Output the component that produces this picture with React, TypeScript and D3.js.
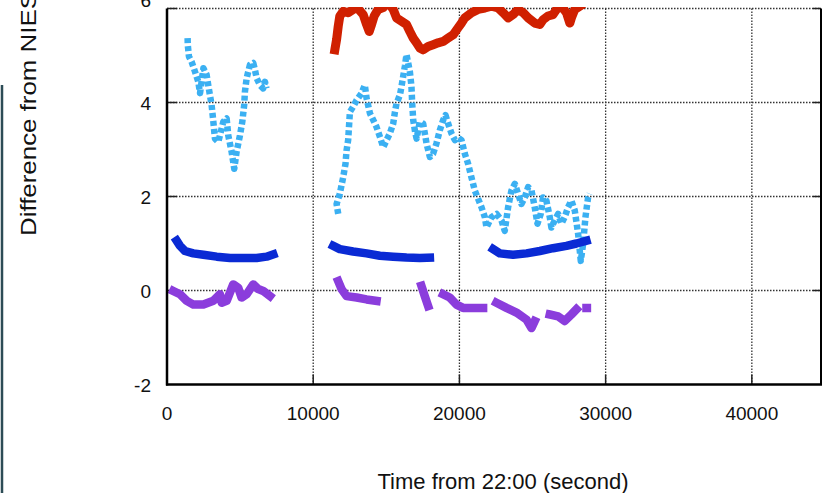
import React from "react";
import * as d3 from "d3";

// Time axis (seconds since 22:00) and difference axis
const xTicks = [0, 10000, 20000, 30000, 40000];
const yTicks = [-2, 0, 2, 4, 6];

type Pt = [number, number];

// Red series
const redSeg1: Pt[] = [
  [11480, 5.12], [11600, 5.34], [11710, 5.62], [11820, 5.84], [12050, 5.94],
  [12390, 5.91], [12730, 5.98], [13000, 6.02], [13420, 5.87], [13650, 5.66],
  [13830, 5.51], [13990, 5.66], [14170, 5.84], [14440, 5.98], [14790, 6.02],
  [15100, 6.15], [15470, 5.98], [15700, 5.8], [16040, 5.73], [16380, 5.66],
  [16610, 5.51], [16840, 5.37], [17070, 5.27], [17290, 5.16], [17520, 5.12],
  [17860, 5.19], [18200, 5.23], [18540, 5.27], [18890, 5.3], [19230, 5.37],
  [19570, 5.44], [19910, 5.59], [20140, 5.69], [20370, 5.8], [20830, 5.91],
  [21280, 5.98], [21740, 6.01], [22190, 6.05], [22650, 6.01], [22990, 5.91],
  [23330, 5.8], [23670, 5.87], [24010, 5.98], [24360, 5.91], [24700, 5.8],
  [25150, 5.69], [25500, 5.66], [25720, 5.76], [26060, 5.84], [26400, 5.87],
  [26630, 5.98], [26980, 6.05], [27320, 5.91], [27550, 5.69], [27660, 5.8],
  [27890, 5.98], [28230, 6.05],
];

// Light blue series
const skySeg1: Pt[] = [
  [1410, 5.37], [1420, 5.23], [1500, 4.98], [1680, 4.87], [1910, 4.66],
  [2140, 4.44], [2260, 4.2], [2490, 4.73], [2710, 4.59], [2820, 4.37],
  [3050, 3.95], [3170, 3.59], [3280, 3.23], [3510, 3.16], [3850, 3.59],
  [4080, 3.66], [4190, 3.3], [4420, 2.95], [4600, 2.59], [4760, 2.95],
  [4990, 3.3], [5150, 3.59], [5280, 3.95], [5330, 4.23], [5450, 4.52],
  [5670, 4.8], [5900, 4.84], [6010, 4.7], [6130, 4.52], [6360, 4.37],
  [6580, 4.3], [6700, 4.44], [6800, 4.3],
];
const skySeg2: Pt[] = [
  [11710, 1.63], [11600, 1.84], [11820, 2.06], [12050, 2.41], [12210, 2.7],
  [12280, 2.98], [12390, 3.2], [12440, 3.45], [12510, 3.8], [12730, 3.91],
  [12970, 4.05], [13310, 4.2], [13530, 4.37], [13650, 4.09], [13880, 3.77],
  [14100, 3.63], [14330, 3.48], [14560, 3.27], [14790, 3.05], [15020, 3.2],
  [15240, 3.34], [15470, 3.55], [15590, 3.8], [15700, 3.98], [15930, 4.16],
  [16040, 4.34], [16150, 4.55], [16270, 4.77], [16380, 5.02], [16610, 4.66],
  [16720, 4.34], [16770, 3.98], [16840, 3.63], [16950, 3.41], [17070, 3.23],
  [17290, 3.59], [17520, 3.55], [17750, 3.13], [17980, 2.84], [18200, 2.91],
  [18430, 3.13], [18660, 3.41], [18890, 3.63], [19050, 3.73], [19230, 3.55],
  [19460, 3.34], [19690, 3.2], [19910, 3.25], [20140, 3.2], [20370, 2.91],
  [20590, 2.7], [20820, 2.41], [21050, 2.13], [21280, 1.95], [21510, 1.77],
  [21740, 1.56], [21850, 1.34], [22190, 1.56], [22540, 1.63], [22880, 1.49],
  [23100, 1.27], [23330, 1.77], [23560, 2.13], [23790, 2.27], [24010, 2.06],
  [24240, 1.84], [24470, 1.98], [24700, 2.2], [24930, 2.13], [25150, 1.77],
  [25340, 1.42], [25560, 1.63], [25720, 1.98], [25950, 1.91], [26180, 1.56],
  [26290, 1.34], [26520, 1.49], [26750, 1.63], [26980, 1.42], [27200, 1.56],
  [27430, 1.77], [27660, 1.91], [27890, 1.7], [28120, 1.2], [28300, 0.63],
  [28460, 0.99], [28620, 1.56], [28800, 1.98], [28910, 2.06],
];

// Dark blue series
const navySeg1: Pt[] = [
  [660, 1.06], [890, 0.95], [1230, 0.84], [1800, 0.79], [2490, 0.76],
  [3400, 0.72], [4310, 0.69], [5220, 0.69], [6130, 0.69], [6810, 0.72],
  [7270, 0.77],
];
const navySeg2: Pt[] = [
  [11370, 0.95], [11820, 0.88], [12730, 0.83], [13650, 0.79], [14560, 0.74],
  [15470, 0.72], [16380, 0.7], [17290, 0.69], [17980, 0.7],
];
const navySeg3: Pt[] = [
  [22310, 0.88], [22760, 0.79], [23670, 0.76], [24590, 0.79], [25500, 0.84],
  [26400, 0.9], [27320, 0.95], [28000, 1.0], [28690, 1.06],
];

// Purple series
const violetSeg1: Pt[] = [
  [430, -0.01], [890, -0.08], [1350, -0.22], [1800, -0.3], [2490, -0.3],
  [3170, -0.22], [3620, -0.08], [3740, -0.26], [4080, -0.22], [4530, 0.13],
  [4870, 0.06], [5100, -0.15], [5450, -0.08], [5900, 0.13], [6240, 0.03],
  [6580, -0.01], [7040, -0.12],
];
const violetSeg2: Pt[] = [
  [11710, 0.2], [11940, 0.03], [12280, -0.12], [12970, -0.15], [13650, -0.19],
  [14330, -0.22],
];
const violetSeg3: Pt[] = [
  [17400, 0.1], [17630, -0.12], [17860, -0.33],
];
const violetSeg4: Pt[] = [
  [18890, -0.08], [19340, -0.15], [19800, -0.3], [20250, -0.37], [20940, -0.37],
  [21620, -0.37],
];
const violetSeg5: Pt[] = [
  [22530, -0.26], [23220, -0.37], [23900, -0.47], [24590, -0.62], [24930, -0.8],
  [25150, -0.65],
];
const violetSeg6: Pt[] = [
  [26180, -0.51], [26750, -0.55], [27200, -0.65], [27660, -0.51], [28000, -0.4],
];
const violetSeg7: Pt[] = [[28690, -0.37], [28720, -0.37]];

const W = 825;
const H = 493;
const left = 167;
const right = 821;
const top = 8.5;
const bottom = 384.5;

const x = d3.scaleLinear().domain([0, 44730]).range([left, right]);
const y = d3.scaleLinear().domain([-2, 6]).range([bottom, top]);

const line = d3
  .line<Pt>()
  .x((d) => x(d[0]))
  .y((d) => y(d[1]))
  .curve(d3.curveLinear);

const series = [
  { segs: [redSeg1], color: "#d02000", width: 9, dash: undefined as string | undefined },
  { segs: [skySeg1, skySeg2], color: "#3bb0f2", width: 6.5, dash: "5 3" },
  { segs: [navySeg1, navySeg2, navySeg3], color: "#0a2ad4", width: 8.5, dash: undefined },
  {
    segs: [violetSeg1, violetSeg2, violetSeg3, violetSeg4, violetSeg5, violetSeg6, violetSeg7],
    color: "#8b3ddc",
    width: 8.5,
    dash: undefined,
  },
];

const font = "'Liberation Sans', Arial, Helvetica, sans-serif";

// the top label sits partly above the page edge
const yLabelShift = (v: number) => (v === 6 ? -8 : 1);

export default function App() {
  return (
    <svg
      width={W}
      height={H}
      viewBox={`0 0 ${W} ${H}`}
      style={{ position: "absolute", left: 0, top: 0, background: "#fff" }}
      fontFamily={font}
    >
      <defs>
        <clipPath id="plot">
          <rect x={left} y={7} width={right - left} height={bottom - 7} />
        </clipPath>
      </defs>

      {/* page edge */}
      <line x1={2} x2={2} y1={85} y2={H} stroke="#2c4c56" strokeWidth={2.5} />

      {/* dotted grid */}
      {xTicks
        .filter((t) => t > 0)
        .map((t) => (
          <line
            key={`gx${t}`}
            x1={x(t)}
            x2={x(t)}
            y1={top}
            y2={bottom}
            stroke="#333"
            strokeWidth={1.3}
            strokeDasharray="1.5 1.5"
          />
        ))}
      {yTicks
        .filter((v) => v > -2)
        .map((v) => (
          <line
            key={`gy${v}`}
            x1={left}
            x2={right}
            y1={y(v)}
            y2={y(v)}
            stroke="#333"
            strokeWidth={1.3}
            strokeDasharray="1.5 1.5"
          />
        ))}

      {/* tick marks */}
      {xTicks
        .filter((t) => t > 0)
        .map((t) => (
          <line key={`tx${t}`} x1={x(t)} x2={x(t)} y1={bottom} y2={bottom - 10} stroke="#222" strokeWidth={1.5} />
        ))}
      {yTicks
        .filter((v) => v > -2)
        .map((v) => (
          <g key={`ty${v}`}>
            <line x1={left} x2={left + 10} y1={y(v)} y2={y(v)} stroke="#222" strokeWidth={1.5} />
            <line x1={right - 8} x2={right} y1={y(v)} y2={y(v)} stroke="#222" strokeWidth={1.5} />
          </g>
        ))}

      {/* data */}
      <g clipPath="url(#plot)">
        {series.map((s, i) =>
          s.segs.map((seg, j) => (
            <path
              key={`s${i}-${j}`}
              d={line(seg) ?? ""}
              fill="none"
              stroke={s.color}
              strokeWidth={s.width}
              strokeDasharray={s.dash}
              strokeLinejoin="round"
              strokeLinecap={s.dash ? "butt" : "square"}
            />
          ))
        )}
      </g>

      {/* frame */}
      <line x1={left} x2={left} y1={top} y2={bottom + 1} stroke="#000" strokeWidth={2.5} />
      <line x1={left - 1} x2={right + 1} y1={bottom} y2={bottom} stroke="#000" strokeWidth={2.5} />
      <line x1={right} x2={right} y1={top} y2={bottom} stroke="#000" strokeWidth={2} />

      {/* tick labels */}
      {yTicks.map((v) => (
        <text
          key={`ly${v}`}
          x={151}
          y={y(v) + yLabelShift(v)}
          textAnchor="end"
          dominantBaseline="central"
          fontSize={19}
          fill="#111"
        >
          {v}
        </text>
      ))}
      {xTicks.map((t) => (
        <text
          key={`lx${t}`}
          x={x(t)}
          y={413}
          textAnchor="middle"
          dominantBaseline="central"
          fontSize={19}
          fill="#111"
        >
          {t}
        </text>
      ))}

      {/* axis titles */}
      <text x={503} y={489} textAnchor="middle" fontSize={22} fill="#111">
        Time from 22:00 (second)
      </text>
      <text
        transform="translate(36,236) rotate(-90)"
        textAnchor="start"
        fontSize={22}
        fill="#111"
        textLength={244}
        lengthAdjust="spacingAndGlyphs"
      >
        Difference from NIES
      </text>
    </svg>
  );
}
